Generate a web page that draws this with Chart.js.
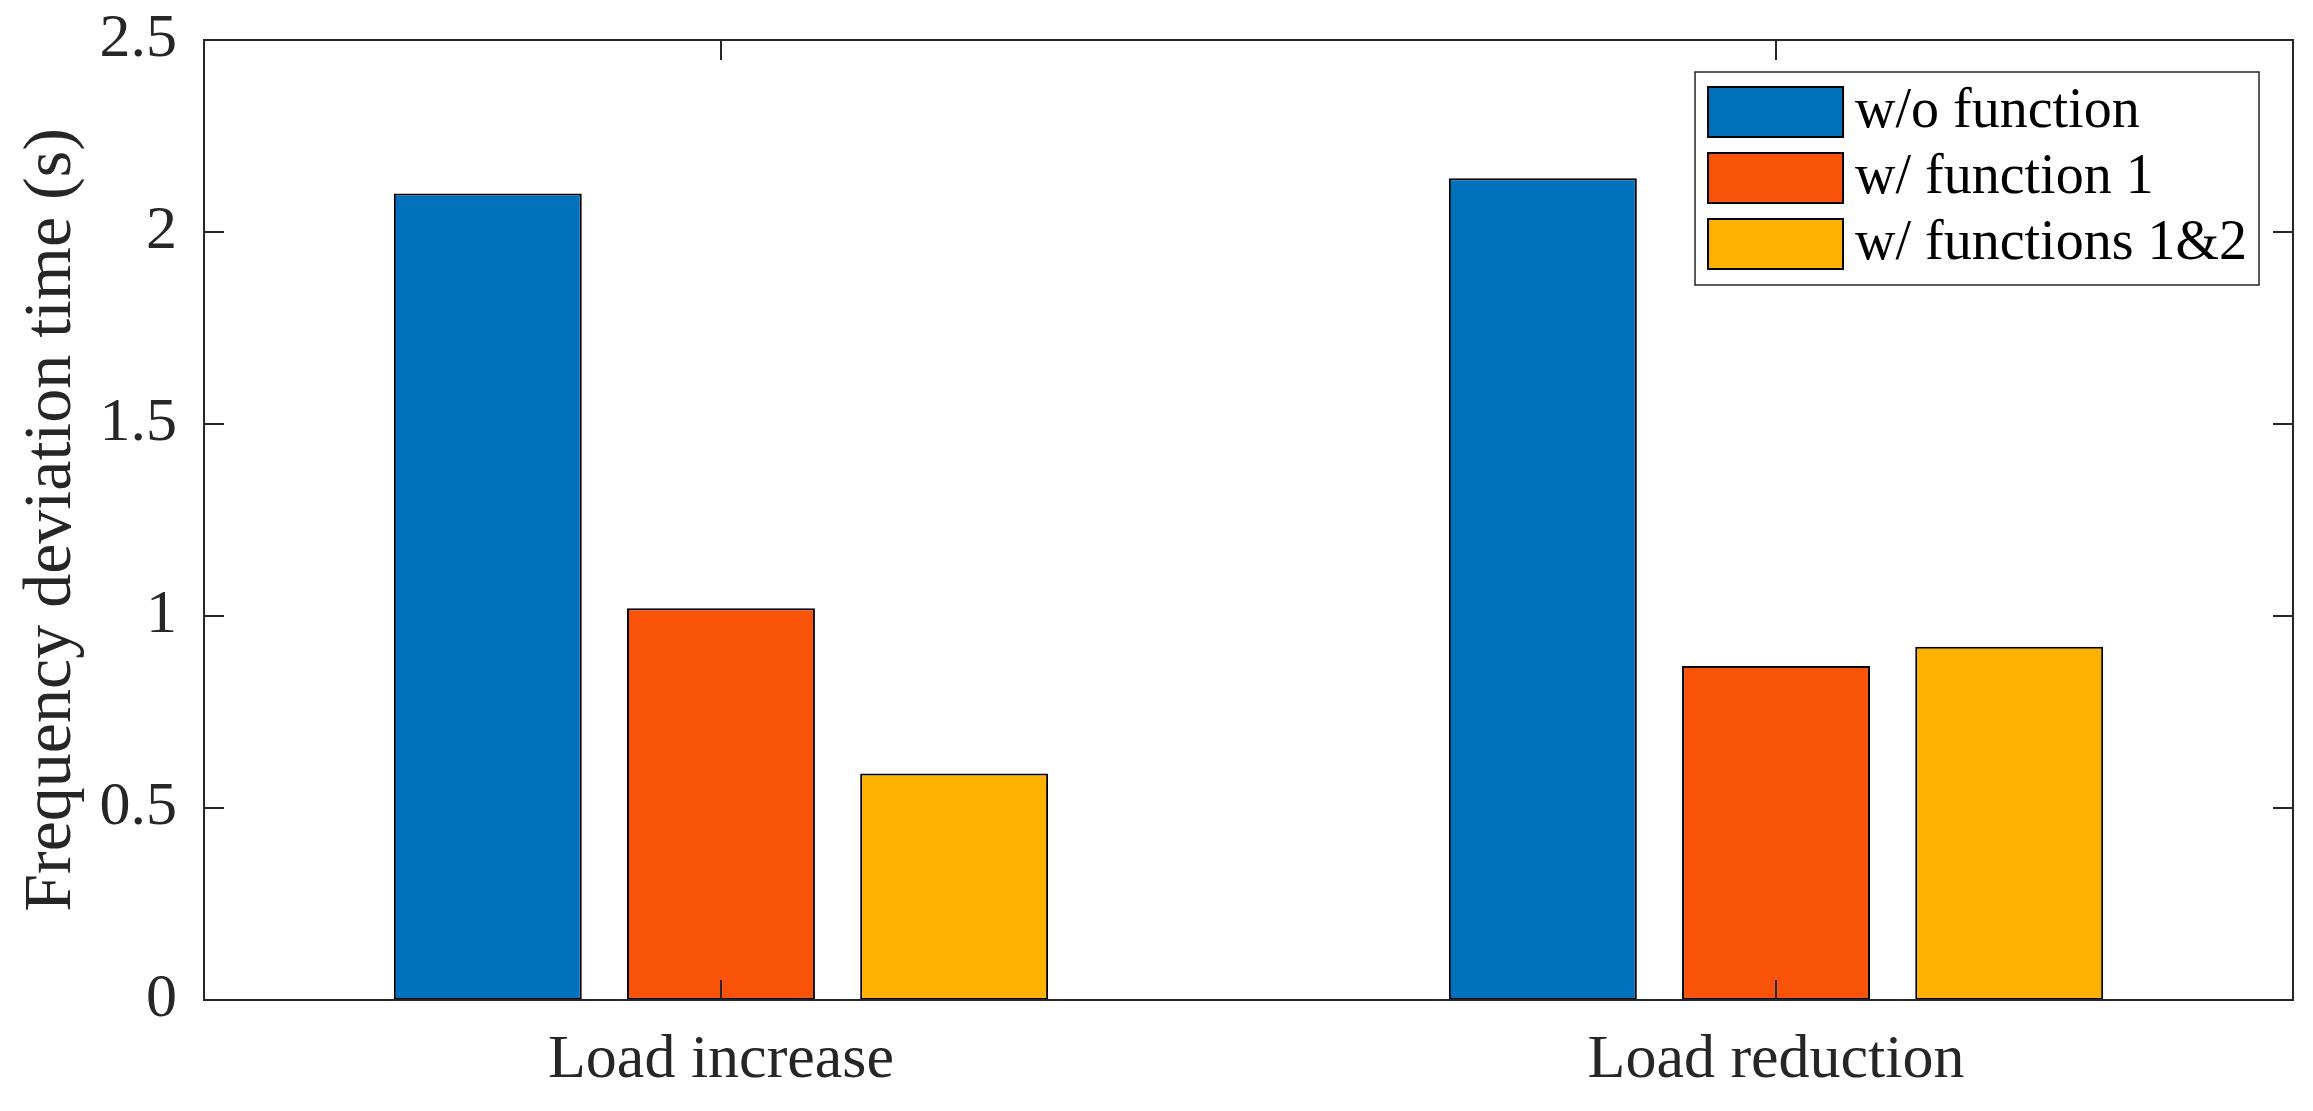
<!DOCTYPE html>
<html>
<head>
<meta charset="utf-8">
<script src="https://cdn.jsdelivr.net/npm/chart.js@4.4.1/dist/chart.umd.min.js"></script>
<style>
  html, body { margin: 0; padding: 0; background: #ffffff; }
  canvas { display: block; }
</style>
</head>
<body>
<canvas id="c" width="2313" height="1111"></canvas>
<script>
// ---- data ----
const categories = ['Load increase', 'Load reduction'];
const seriesNames = ['w/o function', 'w/ function 1', 'w/ functions 1&2'];
const woFunction = [2.10, 2.14];
const withFunction1 = [1.02, 0.87];
const withFunctions12 = [0.59, 0.92];
const yTicks = [0, 0.5, 1, 1.5, 2, 2.5];
const yLabel = 'Frequency deviation time (s)';

const colors = ['#0072BD', '#F9530A', '#FFB100'];
const seriesValues = [woFunction, withFunction1, withFunctions12];
const FONT = "'Liberation Serif', 'Times New Roman', serif";
const AXIS = '#262626';

const datasets = seriesValues.map((vals, si) => ({
  label: seriesNames[si],
  data: vals.map((v, i) => ({ x: i + 1, y: v })),
  backgroundColor: colors[si],
  borderColor: '#000000',
  borderWidth: 2,
  borderSkipped: false,
  categoryPercentage: 0.663,
  barPercentage: 0.806
}));

function zeroPad(scale) {
  scale.paddingTop = 0; scale.paddingBottom = 0;
  scale.paddingLeft = 0; scale.paddingRight = 0;
}

const framePlugin = {
  id: 'frame',
  afterDatasetsDraw(chart) {
    const ctx = chart.ctx;
    const { left, top, right, bottom } = chart.chartArea;
    const tl = 20;
    ctx.save();
    ctx.strokeStyle = AXIS;
    ctx.lineWidth = 2;
    ctx.beginPath();
    chart.scales.y.ticks.forEach(t => {
      const py = Math.round(chart.scales.y.getPixelForValue(t.value));
      ctx.moveTo(left, py); ctx.lineTo(left + tl, py);
      ctx.moveTo(right, py); ctx.lineTo(right - tl, py);
    });
    chart.scales.x.ticks.forEach(t => {
      const px = Math.round(chart.scales.x.getPixelForValue(t.value));
      ctx.moveTo(px, bottom); ctx.lineTo(px, bottom - tl);
      ctx.moveTo(px, top); ctx.lineTo(px, top + tl);
    });
    ctx.stroke();
    ctx.strokeRect(left, top, right - left, bottom - top);
    ctx.restore();
  }
};

const legendPlugin = {
  id: 'boxLegend',
  afterDraw(chart) {
    const ctx = chart.ctx;
    const { top, right } = chart.chartArea;
    ctx.save();
    ctx.font = '56px ' + FONT;
    const ds = chart.data.datasets;
    let maxW = 0;
    ds.forEach(d => { maxW = Math.max(maxW, ctx.measureText(d.label).width); });
    const padL = 13, sw = 135, sh = 50, gap = 12, padR = 12, rowH = 66, firstC = 40;
    const boxW = padL + sw + gap + maxW + padR;
    const boxH = firstC * 2 + rowH * (ds.length - 1) + 1;
    const bx = right - 34 - boxW;
    const by = top + 32;
    ctx.fillStyle = '#ffffff';
    ctx.fillRect(bx, by, boxW, boxH);
    ctx.strokeStyle = AXIS;
    ctx.lineWidth = 1.5;
    ctx.strokeRect(bx, by, boxW, boxH);
    ds.forEach((d, i) => {
      const cy = by + firstC + rowH * i;
      ctx.fillStyle = d.backgroundColor;
      ctx.fillRect(bx + padL, cy - sh / 2, sw, sh);
      ctx.strokeStyle = '#000000';
      ctx.lineWidth = 2;
      ctx.strokeRect(bx + padL, cy - sh / 2, sw, sh);
      ctx.fillStyle = '#000000';
      ctx.textAlign = 'left';
      ctx.textBaseline = 'middle';
      ctx.fillText(d.label, bx + padL + sw + gap, cy);
    });
    ctx.restore();
  }
};

new Chart(document.getElementById('c'), {
  type: 'bar',
  data: { datasets },
  options: {
    responsive: false,
    animation: false,
    devicePixelRatio: 1,
    layout: { padding: { left: 0, top: 40, right: 20, bottom: 0 } },
    plugins: { legend: { display: false }, tooltip: { enabled: false } },
    scales: {
      x: {
        type: 'linear',
        min: 0.51,
        max: 2.49,
        offset: false,
        grid: { display: false, drawTicks: false },
        border: { display: false },
        afterBuildTicks(scale) { scale.ticks = categories.map((c, i) => ({ value: i + 1 })); },
        afterFit(scale) { scale.height = 111; zeroPad(scale); },
        ticks: {
          padding: 24,
          maxRotation: 0,
          autoSkip: false,
          color: '#262626',
          font: { family: FONT, size: 62 },
          callback: (v) => categories[Math.round(v) - 1]
        }
      },
      y: {
        type: 'linear',
        min: 0,
        max: 2.5,
        grid: { display: false, drawTicks: false },
        border: { display: false },
        afterBuildTicks(scale) { scale.ticks = yTicks.map(v => ({ value: v })); },
        afterFit(scale) { scale.width = 204; zeroPad(scale); },
        ticks: {
          padding: 27,
          color: '#262626',
          font: { family: FONT, size: 62 },
          callback: (v) => String(v)
        },
        title: {
          display: true,
          text: yLabel,
          color: '#262626',
          font: { family: FONT, size: 68 },
          padding: { top: 11, bottom: 0 }
        }
      }
    }
  },
  plugins: [framePlugin, legendPlugin]
});
</script>
</body>
</html>
